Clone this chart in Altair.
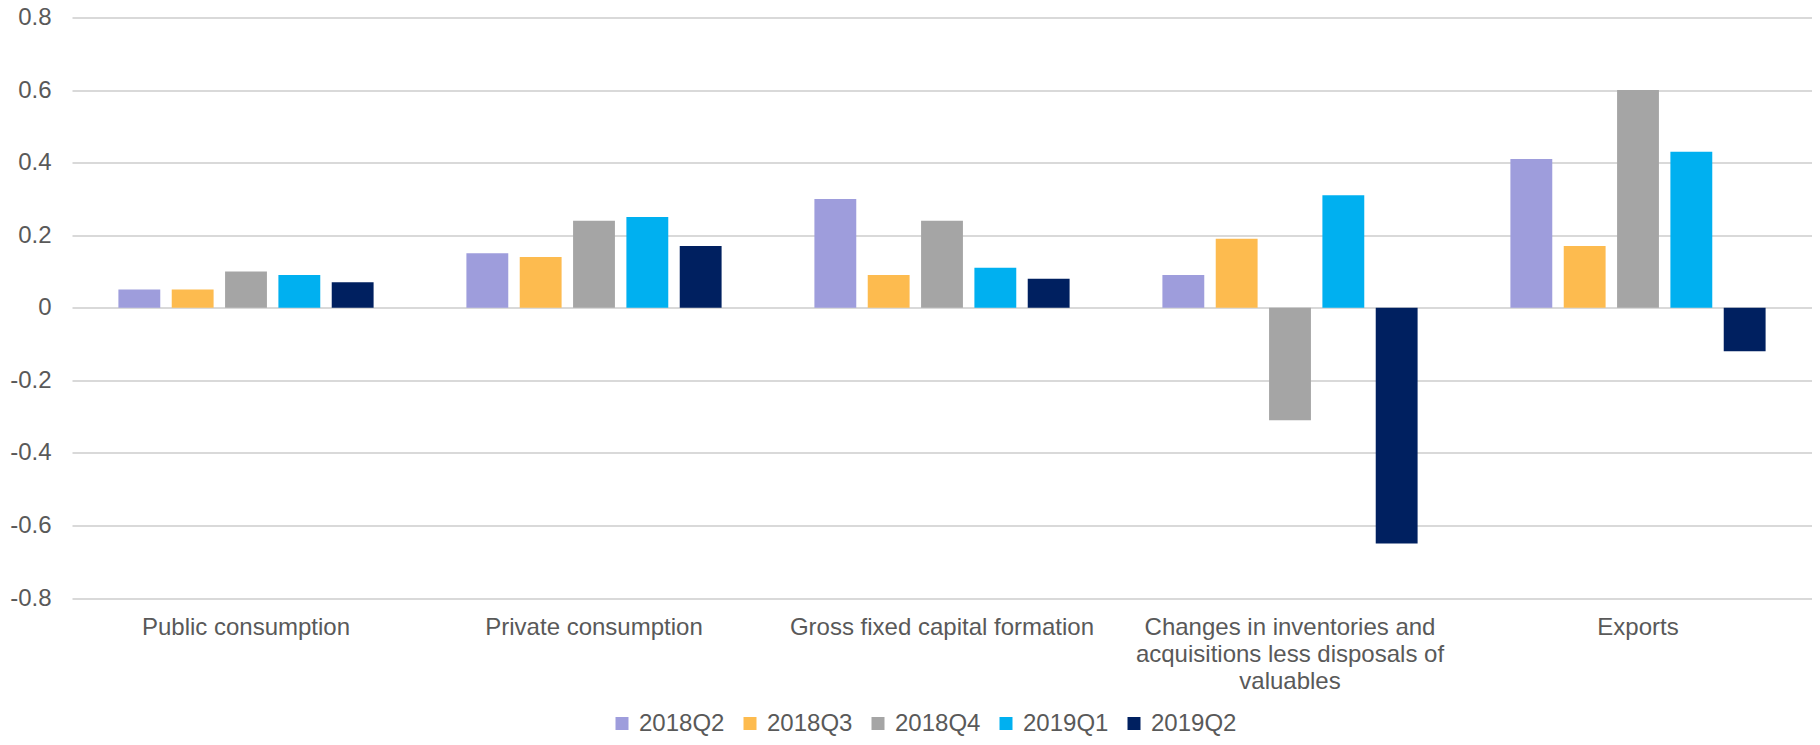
import altair as alt
import pandas as pd

categories = [
    "Public consumption",
    "Private consumption",
    "Gross fixed capital formation",
    "Changes in inventories and acquisitions less disposals of valuables",
    "Exports",
]
quarters = ["2018Q2", "2018Q3", "2018Q4", "2019Q1", "2019Q2"]
colors = ["#9E9DDC", "#FDBB4F", "#A5A5A5", "#00B0F0", "#002060"]

v_2018Q2 = [0.05, 0.15, 0.30, 0.09, 0.41]
v_2018Q3 = [0.05, 0.14, 0.09, 0.19, 0.17]
v_2018Q4 = [0.10, 0.24, 0.24, -0.31, 0.60]
v_2019Q1 = [0.09, 0.25, 0.11, 0.31, 0.43]
v_2019Q2 = [0.07, 0.17, 0.08, -0.65, -0.12]

series = [v_2018Q2, v_2018Q3, v_2018Q4, v_2019Q1, v_2019Q2]
y_ticks = [-0.8, -0.6, -0.4, -0.2, 0, 0.2, 0.4, 0.6, 0.8]

rows = []
for q, vals in zip(quarters, series):
    for c, v in zip(categories, vals):
        rows.append({"category": c, "quarter": q, "value": v})
df = pd.DataFrame(rows)

label_expr = (
    "datum.value == 'Changes in inventories and acquisitions less disposals of valuables' ? "
    "['Changes in inventories and', 'acquisitions less disposals of', 'valuables'] : datum.value"
)

FONT = "Liberation Sans"
TXT = "#595959"

chart = (
    alt.Chart(df)
    .mark_bar()
    .encode(
        x=alt.X(
            "category:N",
            sort=categories,
            scale=alt.Scale(paddingInner=0, paddingOuter=0),
            axis=alt.Axis(
                title=None,
                labelAngle=0,
                domain=False,
                ticks=False,
                tickSize=0,
                grid=False,
                labelPadding=17,
                labelFontSize=24,
                labelFont=FONT,
                labelColor=TXT,
                labelLimit=500,
                labelLineHeight=27,
                labelExpr=label_expr,
            ),
        ),
        xOffset=alt.XOffset(
            "quarter:N",
            sort=quarters,
            scale=alt.Scale(paddingInner=0.215, paddingOuter=0.87),
        ),
        y=alt.Y(
            "value:Q",
            scale=alt.Scale(domain=[-0.8, 0.8], nice=False),
            axis=alt.Axis(
                title=None,
                values=y_ticks,
                domain=False,
                ticks=False,
                tickSize=0,
                grid=True,
                gridColor="#D9D9D9",
                gridWidth=2,
                labelPadding=21,
                labelFontSize=24,
                labelFont=FONT,
                labelColor=TXT,
                labelExpr="datum.value == 0 ? '0' : toString(round(datum.value * 10) / 10)",
            ),
        ),
        color=alt.Color(
            "quarter:N",
            sort=quarters,
            scale=alt.Scale(domain=quarters, range=colors),
            legend=alt.Legend(
                title=None,
                orient="none",
                direction="horizontal",
                columns=5,
                legendX=538,
                legendY=694,
                symbolType="square",
                symbolSize=169,
                symbolStrokeWidth=0,
                labelFontSize=24,
                labelFont=FONT,
                labelColor=TXT,
                labelOffset=5,
                columnPadding=13,
            ),
        ),
    )
    .properties(
        width=1740,
        height=580.5,
        background="white",
        autosize=alt.AutoSizeParams(type="none"),
        padding={"left": 64, "top": 9.5, "right": 0, "bottom": 139},
    )
    .configure_view(strokeWidth=0, stroke="transparent")
)

chart.save("out.html", embed_options={"renderer": "svg", "actions": False})
